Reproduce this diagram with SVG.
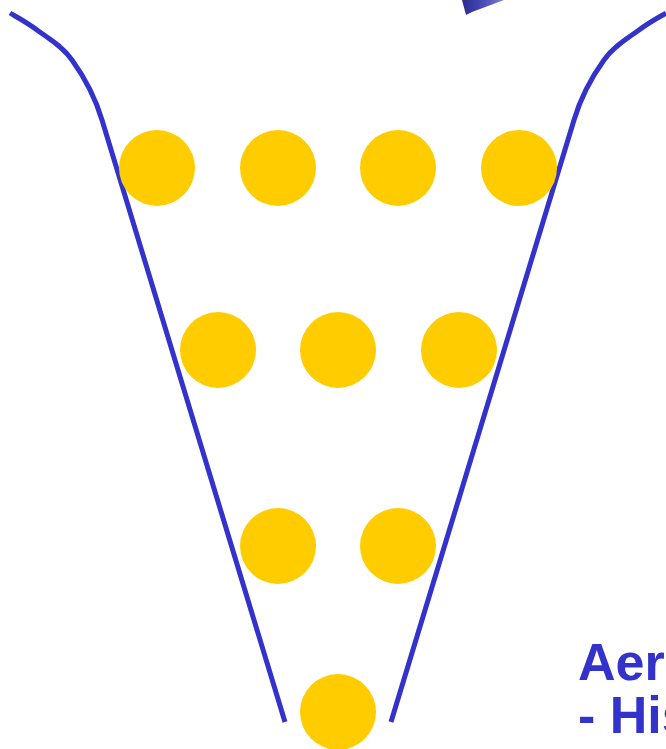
<svg xmlns="http://www.w3.org/2000/svg" width="666" height="749" viewBox="0 0 666 749">
<style>
.wall{fill:none;stroke:#3333CC;stroke-width:5;stroke-linecap:butt;stroke-linejoin:round}
.ball{fill:#FFCC00}
.lbl{font-family:"Liberation Sans",Arial,sans-serif;font-weight:bold;font-size:52px;fill:#3333CC}
</style>
<defs>
<linearGradient id="g" x1="0" y1="0" x2="1" y2="0">
<stop offset="0" stop-color="#2a2a90"/>
<stop offset="0.5" stop-color="#4a4ab8"/>
<stop offset="1" stop-color="#8080d0"/>
</linearGradient>
</defs>
<rect width="666" height="749" fill="#ffffff"/>
<polygon points="462,0 504,0 472,12 466,15" fill="url(#g)"/>
<g id="connectors">
<path class="wall" d="M10,13 C14.5,15.8 26.7,22.2 37,30 C47.3,37.8 61.2,45 72,60 C82.8,75 94.5,95 102,120 L285,722"/>
<path class="wall" d="M666,13 C661.5,15.8 649.3,22.2 639,30 C628.7,37.8 614.8,45 604,60 C593.2,75 581.5,95 574,120 L391,722"/>
</g>
<g id="r1a"><circle class="ball" cx="157" cy="168" r="38"/></g>
<g id="r1b"><circle class="ball" cx="278" cy="168" r="38"/></g>
<g id="r1c"><circle class="ball" cx="398" cy="168" r="38"/></g>
<g id="r1d"><circle class="ball" cx="519" cy="168" r="38"/></g>
<g id="r2a"><circle class="ball" cx="218" cy="350" r="38"/></g>
<g id="r2b"><circle class="ball" cx="338" cy="350" r="38"/></g>
<g id="r2c"><circle class="ball" cx="459" cy="350" r="38"/></g>
<g id="r3a"><circle class="ball" cx="278" cy="546" r="38"/></g>
<g id="r3b"><circle class="ball" cx="398" cy="546" r="38"/></g>
<g id="r4a"><circle class="ball" cx="338" cy="712" r="38"/></g>
<g id="label">
<text class="lbl" x="578" y="680">Aer</text>
<text class="lbl" x="578" y="733">- His</text>
</g>
</svg>
